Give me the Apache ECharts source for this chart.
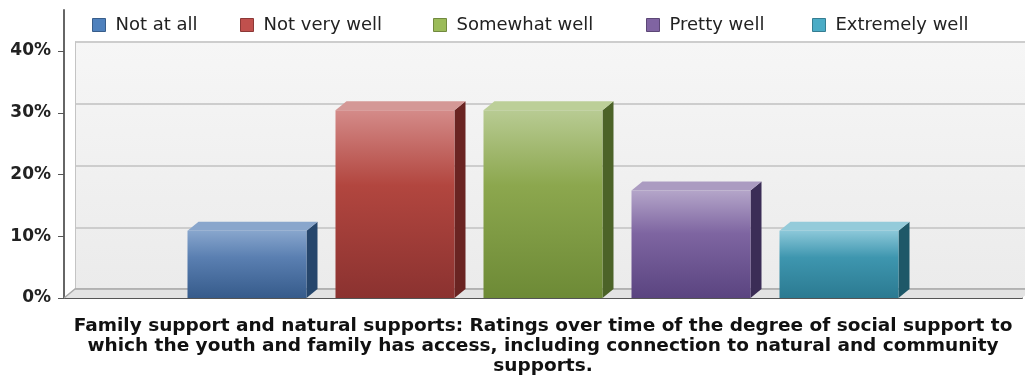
<!DOCTYPE html>
<html>
<head>
<meta charset="utf-8">
<script src="https://cdn.jsdelivr.net/npm/echarts@6/dist/echarts.min.js"></script>
<style>
  html, body { margin: 0; padding: 0; background: #ffffff; }
  #chart { width: 1025px; height: 385px; }
</style>
</head>
<body>
<div id="chart"></div>
<script>
// ---- data ----
const categories = [
  'Family support and natural supports: Ratings over time of the degree of social support to\n' +
  'which the youth and family has access, including connection to natural and community\n' +
  'supports.'
];
const seriesNames = ['Not at all', 'Not very well', 'Somewhat well', 'Pretty well', 'Extremely well'];
const seriesValues = [10.9, 30.4, 30.4, 17.4, 10.9];   // percent of ratings
const yTickMin = 0;
const yTickMax = 40;
const yTickStep = 10;

// ---- styling ----
const palette = [
  { legend: '#4f81bd', border: '#385d8a', top: '#89a6cc', side: '#26466c', face: ['#88a6cd', '#5a7fb1', '#365b8b'] },
  { legend: '#c0504d', border: '#8c3836', top: '#d49896', side: '#6a2422', face: ['#d48b89', '#b2463f', '#8b3230'] },
  { legend: '#9bbb59', border: '#71893f', top: '#bccf98', side: '#4c6328', face: ['#b8cb93', '#8ca74e', '#6d8a36'] },
  { legend: '#8064a2', border: '#5c4776', top: '#ab9bc1', side: '#3b2d56', face: ['#b4a5c9', '#7e65a1', '#5a4480'] },
  { legend: '#4bacc6', border: '#357d91', top: '#94cbda', side: '#1e5868', face: ['#8cc8d9', '#3e96af', '#2b7a91'] }
];
const legendLefts = [92, 240, 433, 646, 812];   // x of each legend swatch
const DX = 11;            // depth offset to the right
const DY = 9;             // depth offset upwards
const FACE_RATIO = 119 / 958;
const STEP_RATIO = 148 / 958;
const FONT = '"DejaVu Sans", Verdana, sans-serif';

function barRenderer(i) {
  return function (params, api) {
    const base = api.coord([api.value(0), 0]);
    const top = api.coord([api.value(0), api.value(1)]);
    const band = api.size([1, 0])[0];
    const w = band * FACE_RATIO;
    const step = band * STEP_RATIO;
    const cx = base[0] + (i - (seriesNames.length - 1) / 2) * step;
    const x1 = cx - w / 2, x2 = cx + w / 2;
    const yb = base[1], yt = top[1];
    const p = palette[i];
    return {
      type: 'group',
      children: [
        { type: 'polygon',
          shape: { points: [[x2, yt], [x2 + DX, yt - DY], [x2 + DX, yb - DY], [x2, yb]] },
          style: { fill: p.side } },
        { type: 'polygon',
          shape: { points: [[x1, yt], [x2, yt], [x2 + DX, yt - DY], [x1 + DX, yt - DY]] },
          style: { fill: p.top } },
        { type: 'rect',
          shape: { x: x1, y: yt, width: w, height: yb - yt },
          style: { fill: { type: 'linear', x: 0, y: 0, x2: 0, y2: 1,
            colorStops: [
              { offset: 0, color: p.face[0] },
              { offset: 0.4, color: p.face[1] },
              { offset: 1, color: p.face[2] }
            ] } } }
      ]
    };
  };
}

// floor of the 3D box, drawn under the bars
function floorRenderer(params, api) {
  const cs = params.coordSys;
  const yb = cs.y + cs.height;
  const x0 = cs.x, xR = cs.x + cs.width;
  return {
    type: 'group',
    children: [
      { type: 'polygon',
        shape: { points: [[x0, yb], [x0 + DX, yb - DY], [xR + DX, yb - DY], [xR, yb]] },
        style: { fill: '#e3e3e3' } },
      { type: 'polyline',
        shape: { points: [[x0, yb], [x0 + DX, yb - DY], [xR + DX, yb - DY]] },
        style: { stroke: '#a8a8a8', lineWidth: 1.5, fill: null } }
    ]
  };
}

const barSeries = seriesNames.map(function (name, i) {
  return {
    name: name,
    type: 'custom',
    xAxisIndex: 0,
    yAxisIndex: 0,
    z: 3,
    itemStyle: { color: palette[i].legend },
    renderItem: barRenderer(i),
    encode: { x: 0, y: 1 },
    data: [[0, seriesValues[i]]]
  };
});

// one legend block per series so each swatch sits where it belongs
const legends = seriesNames.map(function (n, i) {
  return {
    data: [{ name: n, icon: 'rect',
      itemStyle: { color: palette[i].legend, borderColor: palette[i].border, borderWidth: 1 } }],
    left: legendLefts[i],
    top: 16,
    padding: 0,
    itemWidth: 13,
    itemHeight: 13,
    selectedMode: false,
    textStyle: { fontFamily: FONT, fontSize: 18, color: '#222', padding: [0, 0, 0, 5] }
  };
});

const chart = echarts.init(document.getElementById('chart'), null, { renderer: 'canvas' });

chart.setOption({
  animation: false,
  backgroundColor: '#ffffff',
  legend: legends,
  grid: [
    { left: 64, right: 3, top: 51, bottom: 87, outerBoundsMode: 'none' },            // bars
    { left: 64 + DX, right: -DX, top: 51 - DY, bottom: 87 + DY, show: true,
      outerBoundsMode: 'none', borderWidth: 0, borderColor: 'transparent',
      backgroundColor: { type: 'linear', x: 0, y: 0, x2: 0, y2: 1,
        colorStops: [{ offset: 0, color: '#f6f6f6' }, { offset: 1, color: '#ebebeb' }] } }, // back wall
    { left: 64, right: 3, top: 10, bottom: 87, outerBoundsMode: 'none' }             // value axis line
  ],
  xAxis: [
    { type: 'category', gridIndex: 0, data: categories, boundaryGap: true,
      axisLine: { lineStyle: { color: '#555', width: 2 } },
      axisTick: { alignWithLabel: true, length: 8, lineStyle: { color: '#333', width: 1 } },
      axisLabel: { interval: 0, margin: 18, fontFamily: FONT, fontWeight: 'bold', fontSize: 18.5,
        lineHeight: 20, color: '#111', align: 'center' } },
    { type: 'value', gridIndex: 1, show: false },
    { type: 'value', gridIndex: 2, show: false }
  ],
  yAxis: [
    { type: 'value', gridIndex: 0, min: yTickMin, max: yTickMax, interval: yTickStep,
      axisLine: { show: false },
      axisTick: { show: true, length: 6, lineStyle: { color: '#555' } },
      axisLabel: { formatter: '{value}%', fontFamily: FONT, fontWeight: 'bold', fontSize: 17,
        color: '#222', margin: 13 },
      splitLine: { show: false } },
    { type: 'value', gridIndex: 1, min: yTickMin, max: yTickMax, interval: yTickStep,
      axisLine: { show: true, lineStyle: { color: '#c4c4c4', width: 1 } },
      axisTick: { show: false }, axisLabel: { show: false },
      splitLine: { show: true, lineStyle: { color: '#cdcdcd', width: 2 } } },
    { type: 'value', gridIndex: 2, min: 0, max: 1,
      axisLine: { show: true, lineStyle: { color: '#666', width: 2 } },
      axisTick: { show: false }, axisLabel: { show: false }, splitLine: { show: false } }
  ],
  series: [
    { name: 'floor', type: 'custom', xAxisIndex: 0, yAxisIndex: 0, z: 1, silent: true,
      renderItem: floorRenderer, data: [[0, 0]] }
  ].concat(barSeries)
});
</script>
</body>
</html>
